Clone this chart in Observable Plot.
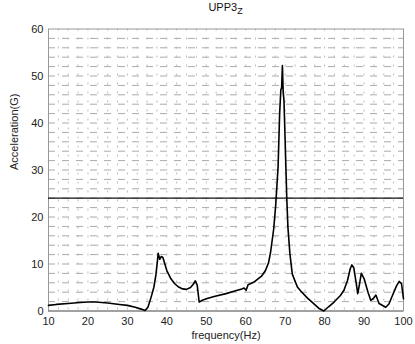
<!DOCTYPE html>
<html>
<head>
<meta charset="utf-8">
<script src="https://cdn.jsdelivr.net/npm/d3@7"></script>
<script src="https://cdn.jsdelivr.net/npm/@observablehq/plot@0.6"></script>
<style>
  html, body { margin: 0; padding: 0; background: #fff; }
  #wrap { position: relative; width: 415px; height: 344px; font-family: "Liberation Sans", Arial, sans-serif; }
  #title { position: absolute; top: 1px; left: 48px; width: 355px; text-align: center; font-size: 11px; color: #111; }
  #title sub { font-size: 9px; vertical-align: -3px; line-height: 0; }
</style>
</head>
<body>
<div id="wrap">
  <div id="title">UPP3<sub>Z</sub></div>
  <div id="chart"></div>
</div>
<script>
const titleText = "UPP3";
const xLabel = "frequency(Hz)";
const yLabel = "Acceleration(G)";
const xTicks = [10, 20, 30, 40, 50, 60, 70, 80, 90, 100];
const yTicks = [0, 10, 20, 30, 40, 50, 60];
const thresholdLevel = 24;

const freq = [10, 12, 15, 18, 20, 22, 25, 28, 30, 32, 33.5, 34.5, 35.2, 36, 36.7, 37.2, 37.6, 37.8, 38.2, 38.6, 39, 39.5, 40, 41, 42, 43, 44, 45, 46, 46.8, 47.2, 47.7, 48.2, 49, 50, 52, 55, 57, 59, 59.6, 60.1, 60.6, 62, 64, 65, 65.8, 66.3, 66.7, 67.1, 67.6, 68.2, 68.6, 68.9, 69.1, 69.3, 69.5, 69.7, 70.0, 70.4, 70.7, 71.2, 71.8, 72.2, 73.1, 74, 75.6, 77.3, 78.5, 79.8, 81, 82.4, 84, 84.9, 85.8, 86.5, 86.9, 87.4, 88, 88.4, 88.8, 89.3, 90, 91, 91.7, 92.3, 93, 93.8, 95.5, 96.3, 97.2, 98.2, 98.9, 99.5, 100];
const accel = [1.2, 1.4, 1.6, 1.8, 1.9, 1.9, 1.7, 1.4, 1.2, 0.8, 0.4, 0.1, 0.8, 2.9, 5.0, 7.5, 10.5, 12.3, 11.0, 11.6, 11.4, 10.0, 8.6, 6.9, 5.8, 5.1, 4.7, 4.6, 5.0, 5.8, 6.4, 5.5, 1.9, 2.3, 2.6, 3.1, 3.7, 4.2, 4.7, 4.9, 4.4, 5.6, 6.1, 7.4, 8.6, 10.3, 12.5, 15.0, 17.5, 22.5, 30.6, 42, 47, 47.5, 52.2, 46.5, 44.8, 36, 24.2, 17.8, 12.2, 7.9, 7.0, 5.1, 4.2, 2.8, 1.5, 0.6, 0.0, 0.9, 1.9, 3.3, 4.4, 6.5, 9.0, 9.8, 9.2, 6.0, 3.7, 5.5, 8.0, 6.9, 4.0, 2.3, 2.6, 3.4, 1.6, 0.8, 1.5, 3.3, 5.3, 6.3, 5.8, 2.6];

const series = freq.map((f, i) => ({f, a: accel[i]}));
const hGrid = d3.range(2, 60, 2);
const vGrid = d3.range(12.5, 100, 2.5);

const chart = Plot.plot({
  width: 415,
  height: 344,
  marginLeft: 48,
  marginRight: 12,
  marginTop: 28.5,
  marginBottom: 33.5,
  style: {fontFamily: "Liberation Sans, Arial, sans-serif", fontSize: "11px", color: "#222", background: "#fff"},
  x: {domain: [10, 100]},
  y: {domain: [0, 60]},
  marks: [
    Plot.ruleY(hGrid, {stroke: "#aaa", strokeWidth: 1, strokeDasharray: "7,7"}),
    Plot.ruleX(vGrid, {stroke: "#bbb", strokeWidth: 1, strokeDasharray: "2,7"}),
    Plot.frame({stroke: "#999", strokeWidth: 1}),
    Plot.ruleY([0], {stroke: "#777", strokeWidth: 1.2}),
    Plot.ruleY([thresholdLevel], {stroke: "#111", strokeWidth: 1.3}),
    Plot.axisX(xTicks, {tickSize: 0, tickPadding: 6, label: null, fontSize: 11}),
    Plot.axisY(yTicks, {tickSize: 0, tickPadding: 5, label: null, fontSize: 11}),
    Plot.line(series, {x: "f", y: "a", stroke: "#000", strokeWidth: 1.6, curve: "linear"}),
    Plot.text([xLabel], {frameAnchor: "bottom", dy: 28, fontSize: 11, fill: "#222"}),
    Plot.text([yLabel], {frameAnchor: "left", dx: -34, rotate: -90, fontSize: 11, fill: "#222"})
  ]
});
document.getElementById("chart").appendChild(chart);
</script>
</body>
</html>
